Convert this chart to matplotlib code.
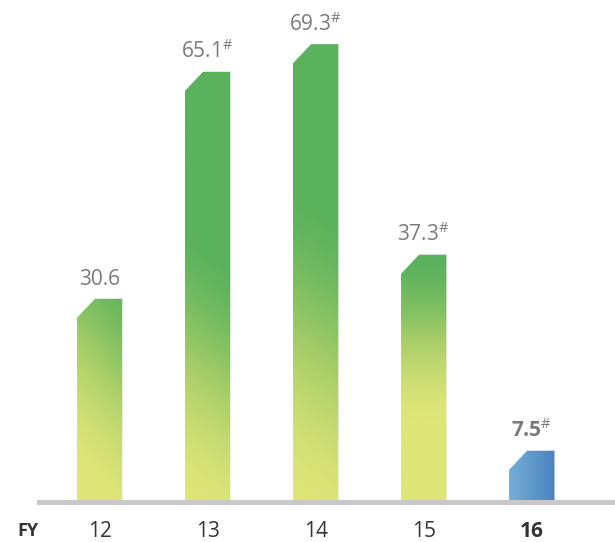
import numpy as np
import matplotlib
matplotlib.use('Agg')
import matplotlib.pyplot as plt
from matplotlib.colors import LinearSegmentedColormap, to_rgb
from matplotlib.patches import Polygon

years = ["12", "13", "14", "15", "16"]
values = [30.6, 65.1, 69.3, 37.3, 7.5]
labels = ["30.6", "65.1", "69.3", "37.3", "7.5"]
marks = ["", "#", "#", "#", "#"]

# gradient style per green bar: (start of green blend, full green, diagonal tilt) as fractions of height
grad_style = [(0.0, 1.35, 0.25), (-0.05, 0.62, 0.08), (-0.05, 0.68, 0.07), (0.3, 1.02, 0.0)]

plt.rcParams['font.family'] = ['Open Sans', 'DejaVu Sans']
plt.rcParams['mathtext.fontset'] = 'custom'
plt.rcParams['mathtext.rm'] = 'Open Sans'
plt.rcParams['mathtext.bf'] = 'Open Sans:bold'

green_cmap = LinearSegmentedColormap.from_list("g", ["#dfe678", "#a6cd68", "#5ab25c"])
blue_l, blue_r = np.array(to_rgb("#74aed6")), np.array(to_rgb("#4a84c0"))

fig = plt.figure(figsize=(6.15, 5.42), dpi=100)
ax = fig.add_axes([0.06, 0.0677, 0.94, 0.920])
ax.set_xlim(-0.58, 4.77)
ax.set_ylim(-0.8, 75)

w = 0.42
cx, cy = 0.167, 2.9  # chamfer size

for i, v in enumerate(values):
    x0, x1 = i - w / 2, i + w / 2
    poly = Polygon([(x0, 0), (x1, 0), (x1, v), (x0 + cx, v), (x0, v - cy)],
                   closed=True, facecolor='none', edgecolor='none')
    ax.add_patch(poly)
    n = 120
    u, t = np.meshgrid(np.linspace(0, 1, n), np.linspace(0, 1, n))
    if i < len(grad_style):
        a, b, k = grad_style[i]
        s = t + k * (u - 0.5)
        s = np.clip((s - a) / (b - a), 0, 1)
        s = s * s * (3 - 2 * s)  # smoothstep, softer ends
        img = green_cmap(s)[..., :3]
    else:
        img = blue_l[None, None, :] * (1 - u[..., None]) + blue_r[None, None, :] * u[..., None]
    im = ax.imshow(img, extent=[x0, x1, 0, v], origin='lower',
                   interpolation='bilinear', zorder=2)
    im.set_clip_path(poly)

    bold = i == len(values) - 1
    if bold:
        txt = r"$\mathbf{%s}^{\#}$" % labels[i]
    elif marks[i]:
        txt = r"$\mathregular{%s^{\#}}$" % labels[i]
    else:
        txt = labels[i]
    ax.annotate(txt, (i, v), xytext=(0, 6), textcoords='offset points',
                ha='center', va='bottom', fontsize=15, color='#7a7a7a',
                fontweight='bold' if bold else 'normal')

ax.set_aspect('auto')
ax.axhspan(-0.75, 0, color='#c8c8c8', zorder=3, lw=0)

ax.set_xticks(range(len(years)))
ax.set_xticklabels(years, fontsize=15, color='#333333')
ax.get_xticklabels()[-1].set_fontweight('bold')
ax.tick_params(axis='x', length=0, pad=11)
ax.set_yticks([])
for sp in ax.spines.values():
    sp.set_visible(False)

fig.text(28 / 615, 1 - 531 / 542, "FY", ha='center', va='center',
         fontsize=13, fontweight='bold', color='#333333')

fig.savefig("out.png", dpi=100)
